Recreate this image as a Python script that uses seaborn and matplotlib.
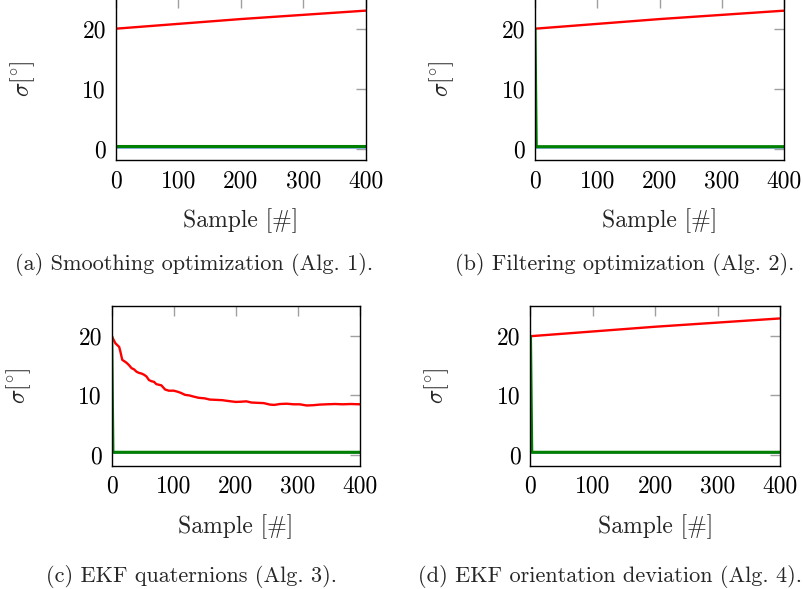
import numpy as np
import pandas as pd
import matplotlib
matplotlib.use("Agg")
import matplotlib.pyplot as plt
import seaborn as sns

# ---------------- data ----------------
captions = ["(a) Smoothing optimization (Alg. 1).",
            "(b) Filtering optimization (Alg. 2).",
            "(c) EKF quaternions (Alg. 3).",
            "(d) EKF orientation deviation (Alg. 4)."]
x_ticks = [0, 100, 200, 300, 400]
y_ticks = [0, 10, 20]

# red curves (a), (b), (d): slowly rising
red_lin_x = [0, 200, 400]
red_lin_y = [20.0, 21.6, 23.0]

# red curve (c): decaying, slightly jagged
red_c_x = [0, 2, 4, 6, 9, 12, 14, 17, 20, 24, 28, 32, 36, 40, 44, 48, 52, 56,
           60, 64, 68, 72, 76, 80, 86, 92, 100, 107, 112, 118, 125, 132, 140,
           150, 158, 168, 178, 185, 192, 200, 210, 217, 225, 235, 245, 255, 262,
           271, 282, 293, 303, 314, 325, 335, 346, 360, 372, 385, 400]
red_c_y = [20.1, 19.6, 19.2, 18.8, 18.5, 18.2, 17.4, 16.0, 15.8, 15.5, 15.1,
           14.6, 14.4, 14.0, 13.8, 13.7, 13.5, 13.2, 12.6, 12.4, 12.3, 11.9,
           11.8, 11.7, 11.0, 10.8, 10.8, 10.6, 10.4, 10.1, 10.0, 9.8, 9.6, 9.5,
           9.3, 9.25, 9.2, 9.1, 9.0, 8.9, 8.95, 9.0, 8.8, 8.75, 8.7, 8.45, 8.4,
           8.55, 8.6, 8.5, 8.5, 8.3, 8.35, 8.45, 8.5, 8.55, 8.5, 8.55, 8.5]

# green curves
green_a_x = [0, 400]
green_a_y = [0.45, 0.45]
green_spike_x = [0, 2, 400]
green_spike_y = [20.0, 0.4, 0.4]

# blue curves (hidden under green)
blue_x = [0, 400]
blue_y = [0.4, 0.4]

# ---------------- style ----------------
sns.set_theme(style="white")
plt.rcParams["font.family"] = ["cmr10", "DejaVu Serif"]
plt.rcParams["mathtext.fontset"] = "cm"
plt.rcParams["axes.formatter.use_mathtext"] = True
plt.rcParams["axes.unicode_minus"] = False

W, H = 804, 589
fig = plt.figure(figsize=(W / 100, H / 100), dpi=100)

def add_ax(L, R, T, B):
    return fig.add_axes([L / W, 1 - B / H, (R - L) / W, (B - T) / H])

YMIN, YMAX = -1.85, 25.1
rects = [(115.7, 365.7, -2.0, 160.2),
         (535.0, 784.5, -2.0, 160.2),
         (111.7, 360.0, 306.0, 465.6),
         (530.5, 780.0, 306.0, 465.6)]

fs = 17

for i, (L, R, T, B) in enumerate(rects):
    ax = add_ax(L, R, T, B)
    if i == 2:
        rx, ry = red_c_x, red_c_y
    else:
        rx, ry = red_lin_x, red_lin_y
    if i == 0:
        gx, gy = green_a_x, green_a_y
    else:
        gx, gy = green_spike_x, green_spike_y
    sns.lineplot(x=blue_x, y=blue_y, ax=ax, color="#7fa8d8", lw=2.0, sort=False)
    sns.lineplot(x=rx, y=ry, ax=ax, color="#ff0000", lw=1.7, sort=False)
    sns.lineplot(x=gx, y=gy, ax=ax, color="#008000", lw=2.2, sort=False)
    ax.set_xlim(0, 400)
    ax.set_ylim(YMIN, YMAX)
    ax.set_xticks(x_ticks)
    ax.set_yticks(y_ticks)
    ax.set_xticklabels([str(v) for v in x_ticks])
    ax.set_yticklabels([str(v) for v in y_ticks])
    ax.tick_params(axis="both", which="major", direction="in", length=7,
                   width=1.0, color="#a0a0a0", labelsize=fs, pad=7,
                   top=True, right=True, labelcolor="black")
    for s in ax.spines.values():
        s.set_color("black")
        s.set_linewidth(1.0)
    ax.set_xlabel("Sample [#]", fontsize=fs, labelpad=12)
    ax.set_ylabel(r"$\sigma$[$^{\circ}$]", fontsize=fs, labelpad=33)
    ax.grid(False)

cap_specs = [(15, 264, "left"), (455, 264, "left"),
             (192, 576, "center"), (418, 576, "left")]
for (cx, cy, ha), cap in zip(cap_specs, captions):
    fig.text(cx / W, 1 - cy / H, cap, ha=ha, va="center", fontsize=16)

fig.savefig("out.png", dpi=100)
